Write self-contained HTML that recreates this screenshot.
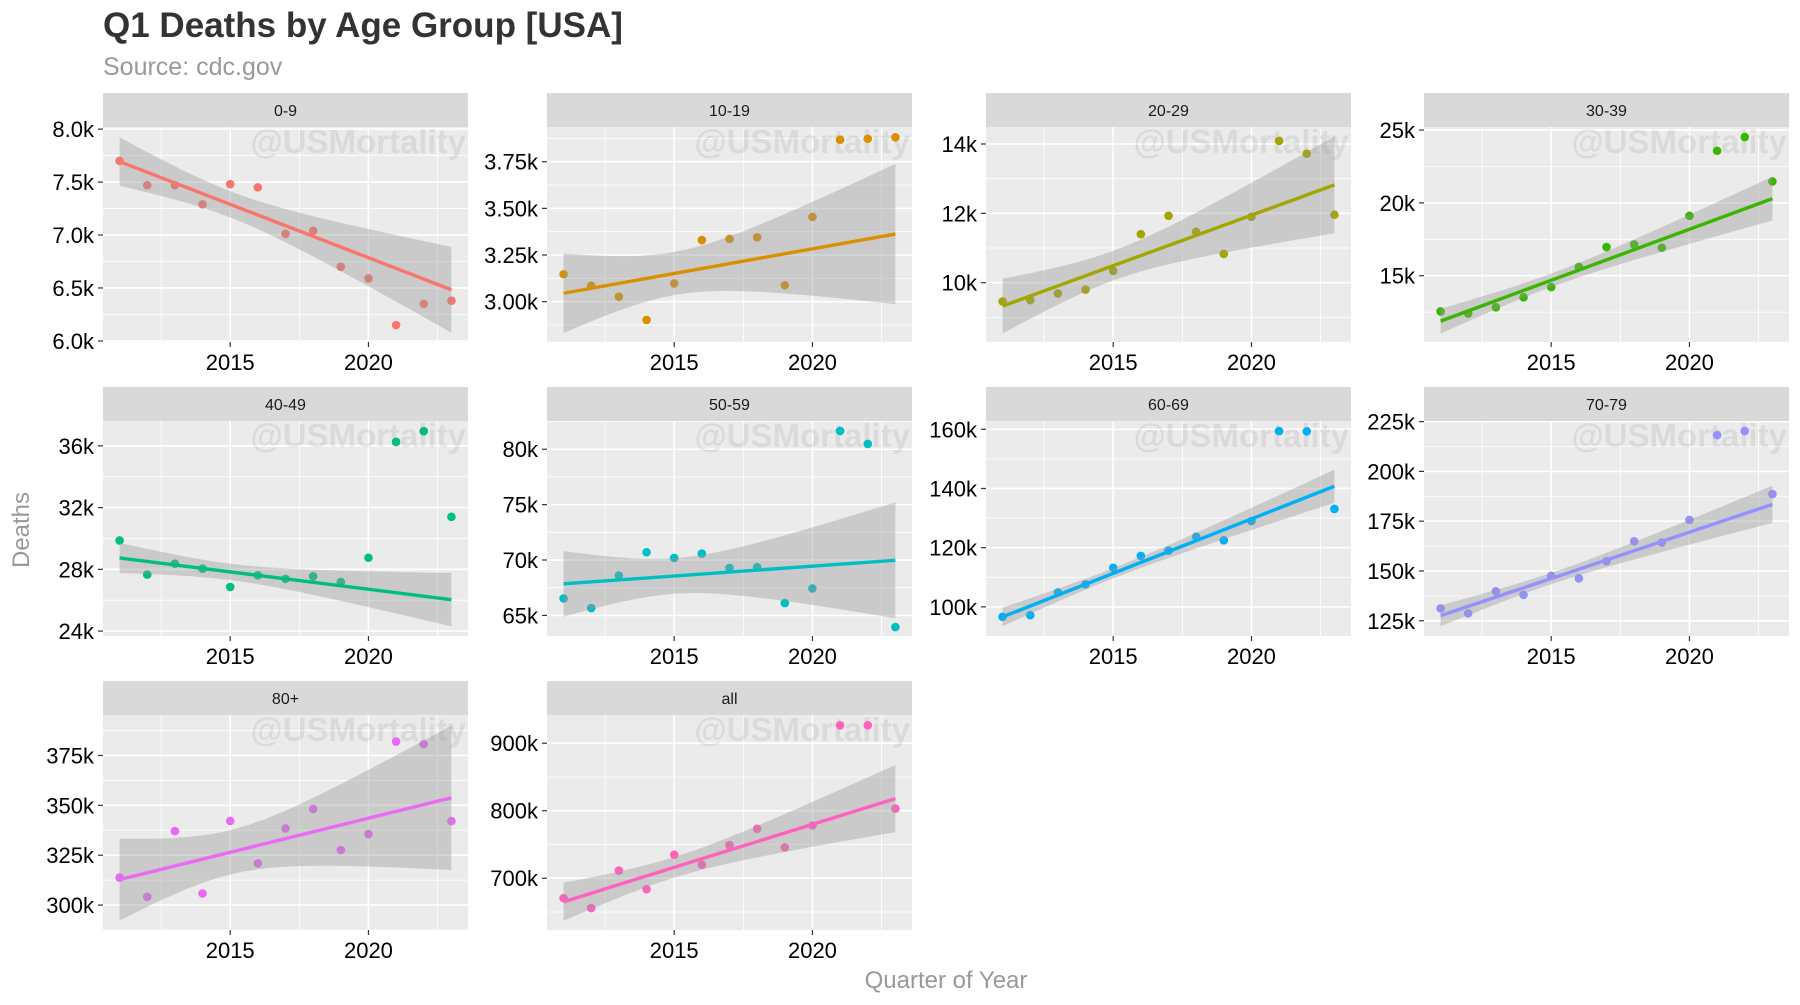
<!DOCTYPE html>
<html><head><meta charset="utf-8"><style>
html,body{margin:0;padding:0;background:#fff;}
svg{display:block;font-family:"Liberation Sans",Arial,sans-serif;}
</style></head><body>
<svg id="chart" width="1800" height="1005" viewBox="0 0 1800 1005" xmlns="http://www.w3.org/2000/svg">
<text x="103" y="37" font-size="35" font-weight="bold" fill="#333">Q1 Deaths by Age Group [USA]</text>
<text x="103" y="75" font-size="25" fill="#999">Source: cdc.gov</text>
<text x="946" y="988" font-size="24" fill="#999" text-anchor="middle">Quarter of Year</text>
<text x="0" y="0" font-size="24" fill="#999" text-anchor="middle" transform="translate(29,530) rotate(-90)">Deaths</text>
<g id="panels"></g>
</svg>
<script>
const years = [2011,2012,2013,2014,2015,2016,2017,2018,2019,2020,2021,2022,2023];
const fitLastYear = 2019;
const groups = ["0-9","10-19","20-29","30-39","40-49","50-59","60-69","70-79","80+","all"];
const colors = ["#F8766D","#D89000","#A3A500","#39B600","#00BF7D","#00BFC4","#00B0F6","#9590FF","#E76BF3","#FF62BC"];
const deaths0_9 = [7700,7470,7470,7290,7480,7450,7010,7040,6700,6590,6150,6350,6380];
const deaths10_19 = [3147,3086,3027,2902,3098,3330,3336,3345,3088,3454,3868,3873,3881];
const deaths20_29 = [9460,9500,9690,9800,10340,11400,11930,11470,10830,11900,14090,13720,11960];
const deaths30_39 = [12550,12410,12830,13520,14220,15600,16970,17150,16920,19110,23580,24520,21470];
const deaths40_49 = [29870,27660,28370,28040,26860,27610,27380,27550,27180,28750,36260,36950,31400];
const deaths50_59 = [66530,65660,68600,70700,70190,70580,69290,69350,66110,67430,81650,80480,63950];
const deaths60_69 = [96650,97200,104900,107600,113200,117200,119000,123700,122500,129000,159400,159300,133100];
const deaths70_79 = [131200,128700,139800,138000,147600,146300,154900,164900,164300,175600,218200,220300,188600];
const deaths80p = [313800,304100,337100,305800,342200,320900,338400,348200,327600,335600,382000,380700,342100];
const deathsAll = [670500,655800,711300,683800,734900,720100,749100,773200,745700,778100,926500,926500,803200];
const seriesValues = [deaths0_9,deaths10_19,deaths20_29,deaths30_39,deaths40_49,deaths50_59,deaths60_69,deaths70_79,deaths80p,deathsAll];
const yDomains = [[5990,8020],[2784,3936],[8290,14490],[10450,25210],[23680,37610],[63140,82550],[90160,162800],[117350,225300],[287500,395300],[623300,941800]];
const yTicks = [[6000,6500,7000,7500,8000],[3000,3250,3500,3750],[10000,12000,14000],[15000,20000,25000],[24000,28000,32000,36000],[65000,70000,75000,80000],[100000,120000,140000,160000],[125000,150000,175000,200000,225000],[300000,325000,350000,375000],[700000,800000,900000]];
const yTickLabels = [["6.0k","6.5k","7.0k","7.5k","8.0k"],["3.00k","3.25k","3.50k","3.75k"],["10k","12k","14k"],["15k","20k","25k"],["24k","28k","32k","36k"],["65k","70k","75k","80k"],["100k","120k","140k","160k"],["125k","150k","175k","200k","225k"],["300k","325k","350k","375k"],["700k","800k","900k"]];
const xTicks = [2015,2020];
const xTickLabels = ["2015","2020"];
const xDomain = [2010.4,2023.6];

const NS="http://www.w3.org/2000/svg";
const colLeft=[103,547,986,1424], PW=365;
const rowTop=[93,387,681], STRIP=34, PH=215;
const root=document.getElementById('panels');
function mk(tag,attrs,parent){const e=document.createElementNS(NS,tag);for(const k in attrs)e.setAttribute(k,attrs[k]);parent.appendChild(e);return e;}
const tTable={5:2.571,6:2.447,7:2.365,8:2.306,9:2.262,10:2.228,11:2.201};

groups.forEach((g,i)=>{
  const c=i%4, r=Math.floor(i/4);
  const L=colLeft[c], T=rowTop[r]+STRIP, B=T+PH, R=L+PW;
  const dom=yDomains[i];
  const xs=v=>L+(v-xDomain[0])/(xDomain[1]-xDomain[0])*PW;
  const ys=v=>B-(v-dom[0])/(dom[1]-dom[0])*PH;
  const pg=mk('g',{},root);
  
  
  const strip=mk('rect',{x:L,y:rowTop[r],width:PW,height:STRIP,fill:'#D9D9D9'},pg);
  
  
  const st=mk('text',{x:L+PW/2,y:rowTop[r]+23,'font-size':16,fill:'#1A1A1A','text-anchor':'middle'},pg);
  st.textContent=g;
  
  
  const bg=mk('rect',{x:L,y:T,width:PW,height:PH,fill:'#EBEBEB'},pg);
  
  
  const clip=mk('clipPath',{id:'clip'+i},pg);
  mk('rect',{x:L,y:T,width:PW,height:PH},clip);
  const gg=mk('g',{'clip-path':'url(#clip'+i+')'},pg);
  const tks=yTicks[i], step=tks[1]-tks[0];
  for(let v=tks[0]-step/2; v<=tks[tks.length-1]+step; v+=step){
    const y=ys(v); if(y<T||y>B)continue;
    mk('line',{x1:L,x2:R,y1:y,y2:y,stroke:'#fff','stroke-width':0.8},gg);
  }
  [2012.5,2017.5,2022.5].forEach(v=>{const x=xs(v);mk('line',{x1:x,x2:x,y1:T,y2:B,stroke:'#fff','stroke-width':0.8},gg);});
  tks.forEach(v=>{const y=ys(v);mk('line',{x1:L,x2:R,y1:y,y2:y,stroke:'#fff','stroke-width':1.6},gg);});
  xTicks.forEach(v=>{const x=xs(v);mk('line',{x1:x,x2:x,y1:T,y2:B,stroke:'#fff','stroke-width':1.6},gg);});
  const wm=mk('text',{x:R-2,y:T+26,'font-size':33,'font-weight':'bold',fill:'#000','fill-opacity':0.07,'text-anchor':'end'},gg);
  wm.textContent='@USMortality';
  
  
  const vals=seriesValues[i];
  vals.forEach((v,k)=>{
    const p=mk('circle',{cx:xs(years[k]),cy:ys(v),r:4.3,fill:colors[i]},gg);
    
    
  });
  // regression on 2011..fitLastYear, extrapolated to last year
  const fx=[],fy=[];
  years.forEach((x,k)=>{if(x<=fitLastYear){fx.push(x);fy.push(vals[k]);}});
  const n=fx.length, mx=fx.reduce((a,b)=>a+b)/n, my=fy.reduce((a,b)=>a+b)/n;
  let sxx=0,sxy=0; fx.forEach((x,k)=>{sxx+=(x-mx)**2;sxy+=(x-mx)*(fy[k]-my);});
  const b=sxy/sxx, a=my-b*mx;
  let sse=0; fx.forEach((x,k)=>{sse+=(fy[k]-(a+b*x))**2;});
  const s=Math.sqrt(sse/(n-2)), tq=tTable[n-2]||2.2;
  const x0=years[0], x1=years[years.length-1];
  const up=[],lo=[];
  for(let j=0;j<=60;j++){const x=x0+(x1-x0)*j/60;const f=a+b*x;const se=s*Math.sqrt(1/n+(x-mx)**2/sxx);
    up.push(xs(x).toFixed(1)+','+ys(f+tq*se).toFixed(1));lo.unshift(xs(x).toFixed(1)+','+ys(f-tq*se).toFixed(1));}
  const band=mk('polygon',{points:up.concat(lo).join(' '),fill:'#999','fill-opacity':0.4},gg);
  
  
  const ln=mk('line',{x1:xs(x0),y1:ys(a+b*x0),x2:xs(x1),y2:ys(a+b*x1),stroke:colors[i],'stroke-width':3.4},gg);
  
  
  tks.forEach((v,k)=>{const y=ys(v);
    mk('line',{x1:L-5,x2:L,y1:y,y2:y,stroke:'#333','stroke-width':1.2},pg);
    const t=mk('text',{x:L-9,y:y+8,'font-size':22,fill:'#000','text-anchor':'end'},pg);
    t.textContent=yTickLabels[i][k];
    
    
  });
  xTicks.forEach((v,k)=>{const x=xs(v);
    mk('line',{x1:x,x2:x,y1:B,y2:B+5,stroke:'#333','stroke-width':1.2},pg);
    const t=mk('text',{x:x,y:B+28,'font-size':22,fill:'#000','text-anchor':'middle'},pg);
    t.textContent=xTickLabels[k];
    
    
  });
});
</script>
</body></html>
